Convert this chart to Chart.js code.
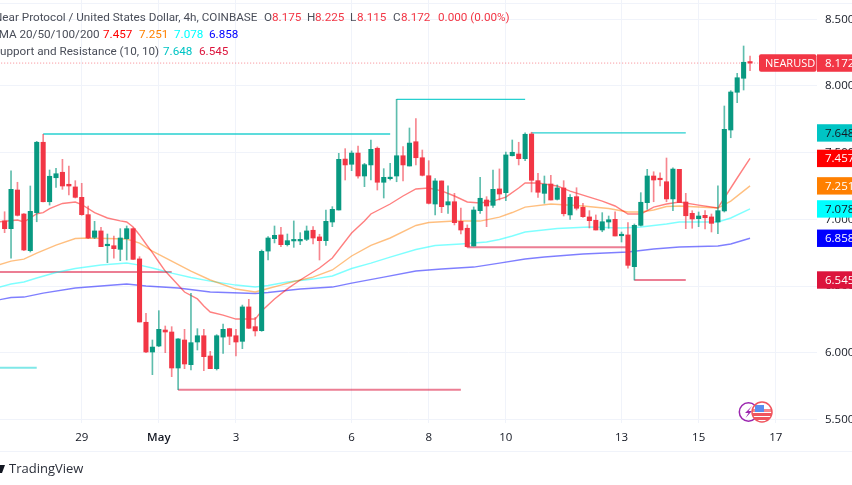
<!DOCTYPE html>
<html>
<head>
<meta charset="utf-8">
<title>NEARUSD 4h</title>
<style>
  html, body { margin: 0; padding: 0; background: #fff; overflow: hidden; }
  canvas { display: block; }
</style>
<script src="https://cdn.jsdelivr.net/npm/chart.js@4/dist/chart.umd.min.js"></script>
</head>
<body>
<canvas id="chart" width="852" height="485"></canvas>
<script>
// candles, one every 4h
const opens = [6.988,6.930,7.220,7.040,6.765,7.050,7.578,7.132,7.312,7.353,7.263,7.243,7.165,7.035,6.865,6.913,6.802,6.802,6.775,6.855,
  6.930,6.703,6.228,6.005,6.050,6.170,6.155,5.885,6.095,5.910,6.080,6.127,5.975,5.880,6.117,6.180,6.127,6.085,6.343,6.195,
  6.165,6.762,6.855,6.883,6.810,6.838,6.838,6.850,6.918,6.868,6.840,6.980,7.070,7.452,7.413,7.497,7.325,7.408,7.533,7.278,
  7.305,7.325,7.477,7.400,7.582,7.462,7.327,7.115,7.288,7.108,7.132,6.985,6.933,6.800,7.065,7.145,7.105,7.228,7.200,7.477,
  7.490,7.455,7.640,7.290,7.195,7.265,7.150,7.235,7.033,7.170,7.090,7.018,6.993,6.920,6.980,7.000,6.877,6.883,6.645,6.955,
  7.125,7.325,7.302,7.282,7.153,7.375,7.130,7.045,7.005,7.030,7.018,6.980,7.063,7.670,7.953,8.058,8.175];
const highs = [7.057,7.363,7.278,7.044,7.250,7.585,7.638,7.370,7.383,7.450,7.400,7.290,7.270,7.100,6.985,6.940,6.890,6.875,6.930,6.950,
  6.937,6.720,6.295,6.095,6.315,6.200,6.195,6.105,6.175,6.445,6.180,6.175,6.010,6.135,6.215,6.183,6.175,6.357,6.400,6.265,
  6.770,6.870,6.950,6.940,6.890,6.988,6.900,6.950,6.945,6.888,7.070,7.095,7.495,7.530,7.513,7.550,7.420,7.595,7.543,7.380,
  7.420,7.900,7.545,7.685,7.755,7.520,7.440,7.305,7.288,7.252,7.195,7.085,6.958,7.093,7.315,7.170,7.370,7.378,7.505,7.595,
  7.578,7.648,7.653,7.345,7.325,7.330,7.258,7.290,7.185,7.237,7.120,7.065,7.033,7.050,7.025,7.057,6.905,6.975,6.965,7.200,
  7.375,7.357,7.348,7.460,7.387,7.375,7.195,7.065,7.055,7.065,7.040,7.252,7.850,7.965,8.095,8.300,8.225];
const lows = [6.900,6.708,7.025,6.765,6.755,6.982,7.130,7.107,7.240,7.225,7.183,7.160,7.030,6.855,6.855,6.795,6.675,6.708,6.690,6.695,
  6.700,6.230,6.000,5.835,6.045,6.000,5.820,5.722,5.880,5.870,6.020,5.865,5.880,5.870,5.995,6.060,5.975,6.030,6.180,6.125,
  6.160,6.695,6.823,6.795,6.800,6.790,6.810,6.840,6.815,6.695,6.805,6.945,7.070,7.295,7.365,7.308,7.245,7.295,7.220,7.160,
  7.295,7.282,7.288,7.400,7.408,7.325,7.115,7.033,7.050,7.045,6.958,6.890,6.790,6.800,7.045,6.945,7.090,7.145,7.140,7.475,
  7.408,7.440,7.205,7.165,7.120,7.145,7.145,7.025,7.000,7.070,7.015,6.935,6.920,6.907,6.933,6.875,6.830,6.633,6.545,6.950,
  7.075,7.132,7.250,7.132,7.065,7.125,6.930,6.933,6.945,6.928,6.905,6.892,7.055,7.612,7.875,7.970,8.115];
const closes = [6.930,7.225,7.030,6.770,7.060,7.578,7.132,7.323,7.342,7.250,7.250,7.165,7.035,6.860,6.913,6.795,6.808,6.780,6.860,6.930,
  6.700,6.230,6.005,6.042,6.175,6.155,5.885,6.103,5.915,6.075,6.127,5.970,5.880,6.127,6.175,6.123,6.080,6.343,6.183,6.163,
  6.760,6.860,6.880,6.810,6.840,6.845,6.850,6.913,6.860,6.840,6.985,7.075,7.450,7.408,7.497,7.325,7.410,7.525,7.278,7.315,
  7.315,7.477,7.408,7.572,7.462,7.330,7.120,7.288,7.095,7.132,6.975,6.920,6.795,7.070,7.158,7.100,7.225,7.190,7.483,7.503,
  7.455,7.638,7.293,7.203,7.263,7.145,7.235,7.042,7.165,7.083,7.020,6.990,6.920,6.982,6.997,6.875,6.883,6.655,6.955,7.128,
  7.325,7.295,7.297,7.153,7.377,7.125,7.027,7.003,7.025,7.012,6.970,7.065,7.675,7.955,8.062,8.178,8.172];

// moving averages, read at these candle positions
const ma20Idx = [-1,2,3,4,5,6,7,9,11,12,14,16,18,19,20,21,22,23,24,25,26,28,30,31,32,34,36,38,39,40,41,42,44,46,49,51,54,56,57,60,62,64,66,68,70,72,74,76,78,80,81,83,86,88,91,93,95,97,99,101,103,105,108,111,112,114,116];
const ma20 = [6.980,6.995,6.980,7.010,7.042,7.050,7.080,7.119,7.130,7.111,7.050,7.010,6.988,6.980,6.942,6.883,6.815,6.750,6.680,6.612,6.560,6.455,6.403,6.350,6.305,6.282,6.252,6.252,6.252,6.312,6.357,6.403,6.478,6.545,6.635,6.710,6.897,6.987,7.040,7.115,7.175,7.228,7.235,7.213,7.175,7.130,7.122,7.137,7.167,7.235,7.272,7.272,7.250,7.212,7.167,7.137,7.100,7.040,7.040,7.092,7.115,7.130,7.107,7.085,7.160,7.310,7.457];
const ma50Idx = [-1,1,3,5,8,11,13,19,21,23,26,29,32,36,39,41,43,45,48,51,54,57,60,64,66,70,74,77,79,81,85,90,94,97,99,101,103,105,111,113,116];
const ma50 = [6.657,6.687,6.702,6.747,6.807,6.856,6.860,6.852,6.822,6.762,6.687,6.612,6.545,6.477,6.455,6.481,6.507,6.534,6.567,6.620,6.725,6.804,6.860,6.954,6.976,6.987,6.987,7.017,7.051,7.092,7.115,7.100,7.081,7.055,7.055,7.070,7.096,7.100,7.085,7.137,7.251];
const ma100Idx = [-1,1,3,5,8,11,15,19,21,23,26,29,32,36,39,41,44,48,51,54,57,60,64,67,71,75,77,79,81,86,91,96,99,103,105,111,113,116];
const ma100 = [6.489,6.515,6.530,6.560,6.601,6.631,6.657,6.672,6.657,6.635,6.597,6.564,6.537,6.507,6.492,6.504,6.530,6.552,6.575,6.631,6.672,6.717,6.774,6.804,6.815,6.830,6.849,6.875,6.905,6.931,6.942,6.935,6.942,6.965,6.980,6.980,7.010,7.078];
const ma200Idx = [-1,1,3,6,11,15,19,22,27,32,39,41,46,51,54,59,64,68,73,77,81,84,90,97,101,105,111,113,116];
const ma200 = [6.395,6.414,6.417,6.447,6.485,6.500,6.515,6.500,6.485,6.455,6.444,6.451,6.477,6.492,6.522,6.567,6.612,6.627,6.642,6.672,6.702,6.717,6.740,6.755,6.777,6.792,6.800,6.815,6.858];

// support and resistance segments
const resistStart = [-1,6,61,82];
const resistEnd = [5,60,81,106];
const resistLevel = [5.887,7.640,7.900,7.648];
const supportStart = [-1,27,72,98];
const supportEnd = [26,71,97,106];
const supportLevel = [6.605,5.722,6.790,6.545];

const dayIdx = [12,24,36,54,66,78,96,108,120];
const dayLabels = ['29','May','3','6','8','10','13','15','17'];
const priceTicks = [5.5,6,6.5,7,7.5,8,8.5];

const lastPrice = 8.172;
const tagValues = [7.648,7.457,7.251,7.078,6.858,6.545];
const tagColors = ['#00c4c4','#ff0000','#ff8000','#00ffff','#0000ff','#dc143c'];
const tagText = ['#131722','#ffffff','#ffffff','#131722','#ffffff','#ffffff'];

const GREEN = '#089981';
const RED = '#f23645';
const FONT = '"Open Sans", sans-serif';
const HEAD_FONT = 'Roboto, sans-serif';

function toPoints(idx, values) {
    return idx.map((x, i) => ({ x: x, y: values[i] }));
}

function maLine(idx, values, color) {
    return {
        type: 'line',
        data: toPoints(idx, values),
        borderColor: color,
        borderWidth: 1.4,
        pointRadius: 0,
        tension: 0,
        order: 3,
    };
}

function segments(starts, ends, levels, color, width) {
    return starts.map((s, i) => ({
        type: 'line',
        data: [{ x: s, y: levels[i] }, { x: ends[i], y: levels[i] }],
        borderColor: color,
        borderWidth: width,
        pointRadius: 0,
        order: 4,
    }));
}

const candleColors = closes.map((c, i) => (c >= opens[i] ? GREEN : RED));
const wickColors = closes.map((c, i) => (c >= opens[i] ? 'rgba(8,153,129,0.65)' : 'rgba(242,54,69,0.6)'));

// header text, price tags, logo and badges around the plot
const decorations = {
    id: 'decorations',
    afterDraw(chart) {
        const { ctx, scales } = chart;
        const y = scales.y;
        ctx.save();

        ctx.strokeStyle = '#f0f3fa';
        ctx.lineWidth = 1;
        [3.5, 451.5].forEach(py => {
            ctx.beginPath();
            ctx.moveTo(0, py);
            ctx.lineTo(852, py);
            ctx.stroke();
        });

        // price tags on the right
        ctx.textBaseline = 'middle';
        ctx.font = '11.5px ' + FONT;
        tagValues.forEach((v, i) => {
            const py = y.getPixelForValue(v);
            ctx.fillStyle = tagColors[i];
            ctx.fillRect(817, py - 8.7, 35, 17.4);
            ctx.fillStyle = tagText[i];
            ctx.fillText(v.toFixed(3), 825, py + 0.5);
        });
        const py = y.getPixelForValue(lastPrice);
        ctx.fillStyle = RED;
        ctx.beginPath();
        ctx.roundRect(759, py - 8.7, 57.5, 17.4, 2);
        ctx.fill();
        ctx.fillRect(817, py - 8.7, 35, 17.4);
        ctx.fillStyle = '#ffffff';
        ctx.font = '11px ' + FONT;
        ctx.fillText('NEARUSD', 765, py + 0.5);
        ctx.font = '11.5px ' + FONT;
        ctx.fillText(lastPrice.toFixed(3), 825, py + 0.5);

        // header lines
        const head = [
            [-6, 18, 'Near Protocol / United States Dollar, 4h, COINBASE', '#4a4e59'],
            [264, 18, 'O', '#4a4e59'], [272, 18, '8.175', RED],
            [307, 18, 'H', '#4a4e59'], [315, 18, '8.225', RED],
            [350, 18, 'L', '#4a4e59'], [357, 18, '8.115', RED],
            [393, 18, 'C', '#4a4e59'], [401, 18, '8.172', RED],
            [438, 18, '0.000 (0.00%)', RED],
            [-8, 35, 'EMA 20/50/100/200', '#4a4e59'],
            [103, 35, '7.457', '#ff0000'], [139, 35, '7.251', '#ff8000'],
            [174, 35, '7.078', '#00ffff'], [209, 35, '6.858', '#0000ff'],
            [-7, 52, 'Support and Resistance (10, 10)', '#4a4e59'],
            [163, 52, '7.648', '#00c4c4'], [199, 52, '6.545', '#dc143c'],
        ];
        ctx.font = '11.7px ' + HEAD_FONT;
        head.forEach(t => {
            ctx.fillStyle = t[3];
            ctx.fillText(t[2], t[0], t[1]);
        });

        // logo
        ctx.fillStyle = '#131722';
        ctx.beginPath();
        ctx.moveTo(0, 465);
        ctx.lineTo(5, 465);
        ctx.lineTo(2, 473);
        ctx.lineTo(0, 473);
        ctx.fill();
        ctx.font = '13px ' + FONT;
        ctx.fillStyle = '#2a2e39';
        ctx.fillText('TradingView', 9, 469);

        // badges
        ctx.strokeStyle = '#9c27b0';
        ctx.lineWidth = 1.5;
        ctx.beginPath();
        ctx.arc(748.5, 412, 9.2, 0, Math.PI * 2);
        ctx.stroke();
        ctx.fillStyle = '#9c27b0';
        ctx.beginPath();
        ctx.moveTo(752, 406);
        ctx.lineTo(745, 413);
        ctx.lineTo(748.5, 413);
        ctx.lineTo(745.5, 418);
        ctx.lineTo(752, 411);
        ctx.lineTo(748.5, 411);
        ctx.fill();

        ctx.save();
        ctx.beginPath();
        ctx.arc(762, 412, 10, 0, Math.PI * 2);
        ctx.fillStyle = '#ffffff';
        ctx.fill();
        ctx.clip();
        ctx.fillStyle = '#f6868d';
        ctx.fillRect(752, 409, 20, 3);
        ctx.fillStyle = '#f0555e';
        ctx.fillRect(752, 413, 20, 3);
        ctx.fillRect(752, 417, 20, 3);
        ctx.fillStyle = '#5b8def';
        ctx.fillRect(755, 405, 9, 7);
        ctx.restore();
        ctx.strokeStyle = '#f0555e';
        ctx.lineWidth = 1.5;
        ctx.beginPath();
        ctx.arc(762, 412, 10, 0, Math.PI * 2);
        ctx.stroke();

        ctx.restore();
    },
};

new Chart(document.getElementById('chart').getContext('2d'), {
    data: {
        datasets: [
            {
                type: 'bar',
                data: highs.map((h, i) => ({ x: i, y: [lows[i], h] })),
                backgroundColor: wickColors,
                barThickness: 1,
                grouped: false,
                order: 2,
            },
            {
                type: 'bar',
                data: opens.map((o, i) => ({ x: i, y: [o, closes[i]] })),
                backgroundColor: candleColors,
                barThickness: 4.4,
                minBarLength: 1.5,
                grouped: false,
                order: 1,
            },
            maLine(ma20Idx, ma20, 'rgba(255,0,0,0.5)'),
            maLine(ma50Idx, ma50, 'rgba(255,128,0,0.5)'),
            maLine(ma100Idx, ma100, 'rgba(0,255,255,0.5)'),
            maLine(ma200Idx, ma200, 'rgba(0,0,255,0.5)'),
            ...segments(resistStart.slice(0, 1), resistEnd.slice(0, 1), resistLevel.slice(0, 1), 'rgba(0,210,210,0.5)', 2),
            ...segments(resistStart.slice(1), resistEnd.slice(1), resistLevel.slice(1), 'rgba(0,200,200,0.85)', 1.3),
            ...segments(supportStart, supportEnd, supportLevel, 'rgba(220,20,60,0.55)', 2),
            {
                type: 'line',
                data: [{ x: -1, y: lastPrice }, { x: 127, y: lastPrice }],
                borderColor: 'rgba(242,54,69,0.6)',
                borderWidth: 1,
                borderDash: [1, 2],
                pointRadius: 0,
                order: 5,
            },
        ],
    },
    options: {
        responsive: false,
        animation: false,
        devicePixelRatio: 1,
        layout: { autoPadding: false, padding: { top: 0, left: 0, right: 0, bottom: 34 } },
        plugins: { legend: { display: false }, tooltip: { enabled: false } },
        scales: {
            x: {
                type: 'linear',
                offset: false,
                min: -0.716,
                max: 126.42,
                afterBuildTicks: scale => { scale.ticks = dayIdx.map(v => ({ value: v })); },
                afterFit: scale => { scale.height = 28; },
                grid: { color: '#f0f3fa', drawTicks: false, offset: false },
                border: { display: false },
                ticks: {
                    autoSkip: false,
                    maxRotation: 0,
                    padding: 8,
                    color: '#131722',
                    font: ctx => ({
                        family: FONT,
                        size: 11.5,
                        weight: ctx.tick && ctx.tick.value === 24 ? '600' : '400',
                    }),
                    callback: v => dayLabels[dayIdx.indexOf(v)],
                },
            },
            y: {
                position: 'right',
                min: 5.4725,
                max: 8.645,
                afterBuildTicks: scale => { scale.ticks = priceTicks.map(v => ({ value: v })); },
                afterFit: scale => {
                    scale.width = 35;
                    // the scale keeps half a label of room otherwise, which squeezes the price range
                    scale.paddingTop = 0;
                    scale.paddingBottom = 0;
                },
                grid: { color: '#f0f3fa', drawTicks: false },
                border: { display: false },
                ticks: {
                    padding: 8,
                    color: '#131722',
                    font: { family: FONT, size: 11.5 },
                    callback: v => v.toFixed(3),
                },
            },
        },
    },
    plugins: [decorations],
});
</script>
</body>
</html>
